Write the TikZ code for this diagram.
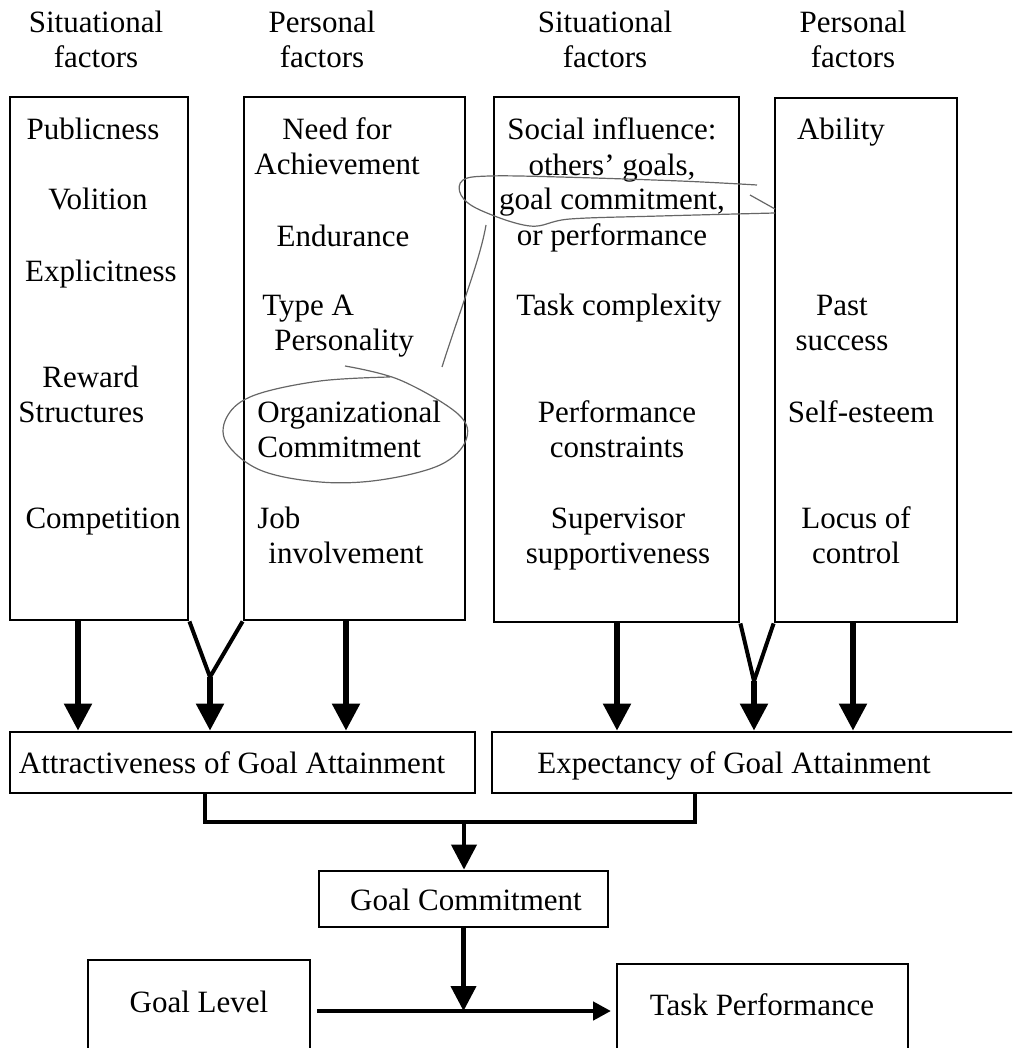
\documentclass[tikz,border=0pt]{standalone}
\usepackage{fontspec}
\setmainfont{Liberation Serif}
\usetikzlibrary{arrows.meta,fit}
\tikzset{
  boxf/.style={draw, line width=1.4pt, inner sep=0pt},
  lbl/.style={font=\fontsize{15.5}{17.5}\selectfont, inner sep=0pt, anchor=base},
  flow/.style={-{Triangle[width=13.5pt,length=13.5pt]}, line width=2.7pt},
  arm/.style={line width=2pt},
  bracket/.style={line width=2.4pt},
  link/.style={-{Triangle[width=12.5pt,length=12.5pt]}, line width=2.1pt},
  linkh/.style={-{Triangle[width=9pt,length=9pt]}, line width=2.4pt},
  ink/.style={draw=black!60, line width=0.6pt}
}

\begin{document}
\begin{tikzpicture}[x=0.5pt, y=-0.5pt]
  \clip (0,0) rectangle (1012,1048);

  % column headings (multi-line nodes sit on their last baseline)
  \node[lbl, align=center] (hSitA) at (96,68)  {Situational\\factors};
  \node[lbl, align=center] (hPerA) at (322,68) {Personal\\factors};
  \node[lbl, align=center] (hSitB) at (605,68) {Situational\\factors};
  \node[lbl, align=center] (hPerB) at (853,68) {Personal\\factors};

  % the four factor boxes
  \node[boxf, fit={(10,97) (188,620)}]  (boxSitA) {};
  \node[boxf, fit={(244,97) (465,620)}] (boxPerA) {};
  \node[boxf, fit={(494,97) (739,622)}] (boxSitB) {};
  \node[boxf, fit={(775,98) (957,622)}] (boxPerB) {};

  % situational factors (attractiveness)
  \node[lbl] (publ) at (93,140)  {Publicness};
  \node[lbl] (voli) at (98,210)  {Volition};
  \node[lbl] (expl) at (101,281) {Explicitness};
  \node[lbl, anchor=base west, align=left] (rewd) at (18,422) {\hspace*{12pt}Reward\\Structures};
  \node[lbl] (comp) at (103,528) {Competition};

  % personal factors (attractiveness)
  \node[lbl, align=center] (nach) at (337,175) {Need for\\Achievement};
  \node[lbl] (endu) at (343,247) {Endurance};
  \node[lbl, anchor=base west, align=left] (typa) at (262,350) {Type A\\\hspace*{6pt}Personality};
  \node[lbl, anchor=base west, align=left] (orgc) at (257,457) {Organizational\\Commitment};
  \node[lbl, anchor=base west, align=left] (jobi) at (257,563) {Job\\\hspace*{5.5pt}involvement};

  % situational factors (expectancy)
  \node[lbl, align=center] (socl) at (612,245) {Social influence:\\others' goals,\\goal commitment,\\or performance};
  \node[lbl] (tcpx) at (619,315) {Task complexity};
  \node[lbl, align=center] (pcon) at (617,457) {Performance\\constraints};
  \node[lbl, align=center] (supv) at (618,563) {Supervisor\\supportiveness};

  % personal factors (expectancy)
  \node[lbl] (abil) at (841,140) {Ability};
  \node[lbl, align=center] (psuc) at (842,350) {Past\\success};
  \node[lbl] (sest) at (861,422) {Self-esteem};
  \node[lbl, align=center] (locu) at (856,563) {Locus of\\control};

  % middle row
  \node[boxf, fit={(10,732) (475,793)}]   (attr) {};
  \node[boxf, fit={(492,732) (1030,793)}] (expt) {};
  \node[lbl] (attrT) at (232,773) {Attractiveness of Goal Attainment};
  \node[lbl] (exptT) at (734,773) {Expectancy of Goal Attainment};

  % lower part
  \node[boxf, fit={(319,871) (608,927)}]  (goalc) {};
  \node[boxf, fit={(88,960) (310,1070)}]  (golev) {};
  \node[boxf, fit={(617,964) (908,1070)}] (tperf) {};
  \node[lbl] (goalcT) at (466,910)  {Goal Commitment};
  \node[lbl] (golevT) at (199,1012) {Goal Level};
  \node[lbl] (tperfT) at (762,1015) {Task Performance};

  % arrows into attractiveness
  \coordinate (xA) at (78,0);
  \coordinate (xB) at (346,0);
  \coordinate (vA) at (210,677);
  \draw[flow] (xA |- boxSitA.south) -- (xA |- attr.north);
  \draw[arm] (boxSitA.south east) -- (vA) -- (boxPerA.south west);
  \draw[flow] (vA) -- (vA |- attr.north);
  \draw[flow] (xB |- boxPerA.south) -- (xB |- attr.north);

  % arrows into expectancy
  \coordinate (xC) at (617,0);
  \coordinate (xD) at (853,0);
  \coordinate (vB) at (754,681);
  \draw[flow] (xC |- boxSitB.south) -- (xC |- expt.north);
  \draw[arm] (boxSitB.south east) -- (vB) -- (boxPerB.south west);
  \draw[flow] (vB) -- (vB |- expt.north);
  \draw[flow] (xD |- boxPerB.south) -- (xD |- expt.north);

  % joining bracket
  \coordinate (brL) at (205,822);
  \coordinate (brR) at (695,822);
  \coordinate (brM) at (464,822);
  \draw[bracket] (brL |- attr.south) -- (brL) -- (brR) -- (brR |- expt.south);
  \draw[link] (brM) -- (brM |- goalc.north);

  % goal level to task performance
  \coordinate (hs) at (317,1011);
  \coordinate (he) at (611,1011);
  \draw[linkh] (hs) -- (he);
  \draw[link] (goalc.south) -- (goalc.south |- hs);

  % pen marks
  \draw[ink] plot[smooth, tension=0.6] coordinates {(345,366) (400,380) (458,414) (466,440) (440,465) (380,480) (320,482) (260,470) (226,442) (228,415) (255,395) (320,381) (390,377)};
  \draw[ink] (442,367) .. controls (460,310) and (480,260) .. (486,225);
  \draw[ink] plot[smooth, tension=0.6] coordinates {(757,185) (680,181) (560,177) (490,176) (463,180) (461,195) (480,210) (530,226) (570,219) (660,216) (775,213)};
  \draw[ink] (750,195) -- (775,209);
\end{tikzpicture}
\end{document}
